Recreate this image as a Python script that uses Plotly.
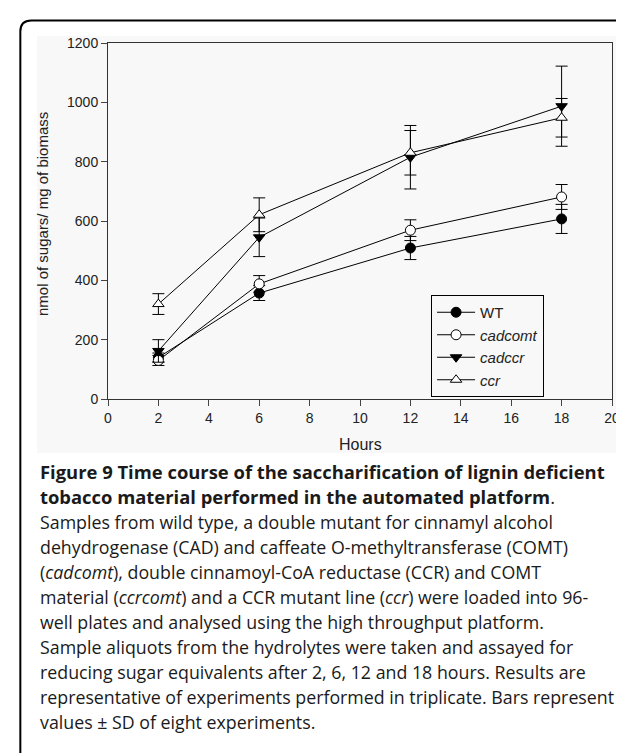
import plotly.graph_objects as go

hours = [2, 6, 12, 18]
series_names = ["WT", "cadcomt", "cadccr", "ccr"]
legend_labels = ["WT", "<i>cadcomt</i>", "<i>cadccr</i>", "<i>ccr</i>"]
wt = [140, 357, 509, 607]
wt_sd = [15, 25, 39, 49]
cadcomt = [130, 388, 569, 681]
cadcomt_sd = [17, 28, 35, 42]
cadccr = [162, 545, 815, 987]
cadccr_sd = [38, 65, 107, 135]
ccr = [320, 621, 830, 948]
ccr_sd = [35, 57, 75, 65]

x_ticks = list(range(0, 21, 2))
y_ticks = list(range(0, 1201, 200))

caption_lines = [
    "<b>Figure 9 Time course of the saccharification of lignin deficient</b>",
    "<b>tobacco material performed in the automated platform</b>.",
    "Samples from wild type, a double mutant for cinnamyl alcohol",
    "dehydrogenase (CAD) and caffeate O-methyltransferase (COMT)",
    "(<i>cadcomt</i>), double cinnamoyl-CoA reductase (CCR) and COMT",
    "material (<i>ccrcomt</i>) and a CCR mutant line (<i>ccr</i>) were loaded into 96-",
    "well plates and analysed using the high throughput platform.",
    "Sample aliquots from the hydrolytes were taken and assayed for",
    "reducing sugar equivalents after 2, 6, 12 and 18 hours. Results are",
    "representative of experiments performed in triplicate. Bars represent",
    "values \u00b1 SD of eight experiments.",
]

W, H = 624, 753
L, R, T, B = 100, 611.7, 35, 391
PW, PH = R - L, B - T


def px(x):
    return (x - L) / PW


def py(y):
    return (B - y) / PH


styles = [
    dict(symbol="circle", color="black"),
    dict(symbol="circle", color="white"),
    dict(symbol="triangle-down", color="black"),
    dict(symbol="triangle-up", color="white"),
]
vals = [wt, cadcomt, cadccr, ccr]
sds = [wt_sd, cadcomt_sd, cadccr_sd, ccr_sd]

fig = go.Figure()
for name, lab, v, sd, st in zip(series_names, legend_labels, vals, sds, styles):
    fig.add_trace(go.Scatter(
        x=hours, y=v, name=lab, mode="lines+markers",
        line=dict(color="black", width=1),
        marker=dict(symbol=st["symbol"], color=st["color"], size=10,
                    line=dict(color="black", width=1)),
        error_y=dict(type="data", array=sd, visible=True, width=6,
                     thickness=1, color="black"),
    ))

font_axis = "Liberation Sans, Arial, sans-serif"
font_cap = "Open Sans, sans-serif"

annotations = [
    dict(x=px(33), y=py(206), xref="paper", yref="paper",
         text="nmol of sugars/ mg of biomass", textangle=-90, showarrow=False,
         font=dict(family=font_axis, size=15, color="#222"),
         xanchor="center", yanchor="middle"),
    dict(x=0.5, y=py(436), xref="paper", yref="paper", text="Hours",
         showarrow=False, font=dict(family=font_axis, size=16, color="#222"),
         xanchor="center", yanchor="middle"),
]
for i, line in enumerate(caption_lines):
    size = 18.4 if i < 2 else 17.8
    annotations.append(dict(
        x=px(29), y=py(464 + 25 * i), xref="paper", yref="paper",
        text=line, showarrow=False, xanchor="left", yanchor="middle",
        font=dict(family=font_cap, size=size, color="#1a1a1a")))

r = 11
frame_path = (
    f"M {px(11)},{py(800)} L {px(11)},{py(12.5 + r)} "
    f"Q {px(11)},{py(12.5)} {px(11 + r)},{py(12.5)} L {px(700)},{py(12.5)}"
)
shapes = [
    dict(type="rect", xref="paper", yref="paper", x0=px(28), x1=px(640),
         y0=py(28), y1=py(445), fillcolor="#f8f8f8", line=dict(width=0),
         layer="below"),
    dict(type="path", xref="paper", yref="paper", path=frame_path,
         line=dict(color="black", width=2)),
]

fig.update_layout(
    width=W, height=H,
    margin=dict(l=L, r=W - R, t=T, b=H - B, pad=0),
    paper_bgcolor="white", plot_bgcolor="rgba(0,0,0,0)",
    showlegend=True,
    legend=dict(x=px(428), y=py(287), xanchor="left", yanchor="top",
                bgcolor="#f8f8f8", bordercolor="black", borderwidth=1,
                font=dict(family=font_axis, size=15, color="#222"),
                itemwidth=38),
    xaxis=dict(range=[0, 20], tickvals=x_ticks, ticks="outside", ticklen=6,
               showline=True, linecolor="#333", linewidth=1, mirror=True,
               showgrid=False, zeroline=False,
               tickfont=dict(family=font_axis, size=14, color="#222")),
    yaxis=dict(range=[0, 1200], tickvals=y_ticks, ticks="outside", ticklen=6,
               showline=True, linecolor="#333", linewidth=1, mirror=True,
               showgrid=False, zeroline=False,
               tickfont=dict(family=font_axis, size=14, color="#222")),
    annotations=annotations,
    shapes=shapes,
)

fig.write_html("out.html")
